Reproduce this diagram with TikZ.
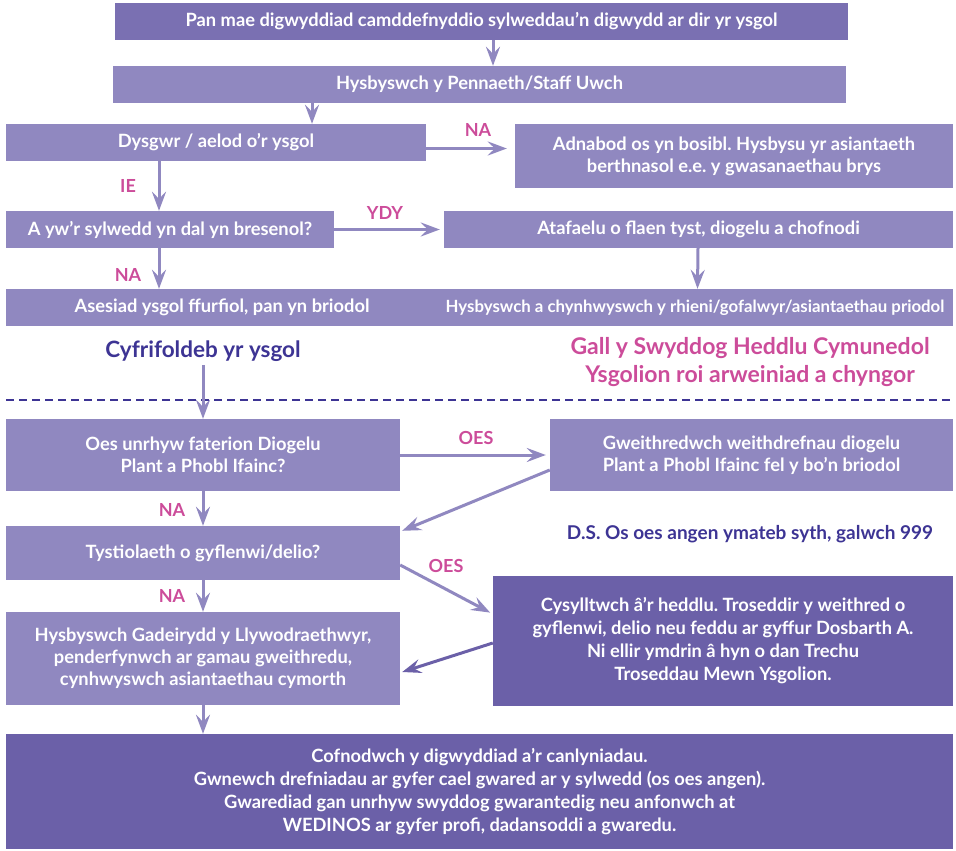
\documentclass[tikz,border=0pt]{standalone}
\usepackage{fontspec}
\setmainfont{Lato}
\frenchspacing
\usetikzlibrary{arrows.meta}
\definecolor{boxlight}{HTML}{9088C0}
\definecolor{boxtop}{HTML}{7A70B2}
\definecolor{boxdark}{HTML}{6B60A8}
\definecolor{answerpink}{HTML}{CC4C9A}
\definecolor{notenavy}{HTML}{3D3494}
\tikzset{
  box/.style={fill=boxlight, text=white, align=center, inner sep=0pt,
    font=\bfseries\fontsize{18.3}{22}\selectfont},
  topbox/.style={box, fill=boxtop},
  darkbox/.style={box, fill=boxdark, font=\bfseries\fontsize{18.3}{23}\selectfont},
  flow/.style={draw=boxlight, line width=3pt, -{Stealth[length=19pt,width=14pt,inset=7pt]}},
  darkflow/.style={flow, draw=boxdark},
  answer/.style={text=answerpink, font=\bfseries\fontsize{18}{20}\selectfont},
  note/.style={text=notenavy, align=center, font=\bfseries\fontsize{19}{22}\selectfont},
}
\begin{document}
\begin{tikzpicture}[x=1pt,y=-1pt]
  \useasboundingbox (0,0) rectangle (956,851);
  % upper part
  \node[topbox, minimum width=733, minimum height=37] (top) at (481.5,21.5)
    {Pan mae digwyddiad camddefnyddio sylweddau’n digwydd ar dir yr ysgol};
  \node[box, minimum width=733, minimum height=37] (hysb) at (479.5,84.5)
    {Hysbyswch y Pennaeth/Staff Uwch};
  \node[box, minimum width=420, minimum height=37] (dysgwr) at (216,142.5)
    {Dysgwr / aelod o’r ysgol};
  \node[box, minimum width=438, minimum height=64] (adnabod) at (734,156)
    {Adnabod os yn bosibl. Hysbysu yr asiantaeth\\berthnasol e.e. y gwasanaethau brys};
  \node[box, minimum width=328, minimum height=37] (ayw) at (170,229.5)
    {A yw’r sylwedd yn dal yn bresenol?};
  \node[box, minimum width=509, minimum height=37] (atafaelu) at (698.5,229.5)
    {Atafaelu o flaen tyst, diogelu a chofnodi};
  \node[box, minimum width=433, minimum height=37] (asesiad) at (222,307.5)
    {Asesiad ysgol ffurfiol, pan yn briodol};
  \node[box, minimum width=516, minimum height=37, font=\bfseries\fontsize{16.8}{20}\selectfont]
    (hysbr) at (695,307.5)
    {Hysbyswch a chynhwyswch y rhieni/gofalwyr/asiantaethau priodol};
  \node[note, font=\bfseries\fontsize{22.5}{26}\selectfont] (cyfr) at (203,351)
    {Cyfrifoldeb yr ysgol};
  \node[note, text=answerpink, font=\bfseries\fontsize{23}{28}\selectfont] (heddlu) at (750,362)
    {Gall y Swyddog Heddlu Cymunedol\\Ysgolion roi arweiniad a chyngor};
  \draw[notenavy, line width=2.5pt, dash pattern=on 8pt off 5pt] (6,400) -- (953,400);
  % lower part
  \node[box, minimum width=394, minimum height=72] (oes) at (203,455)
    {Oes unrhyw faterion Diogelu\\Plant a Phobl Ifainc?};
  \node[box, minimum width=403, minimum height=72] (gweith) at (751.5,455)
    {Gweithredwch weithdrefnau diogelu\\Plant a Phobl Ifainc fel y bo’n briodol};
  \node[box, minimum width=394, minimum height=54] (tyst) at (203,553)
    {Tystiolaeth o gyflenwi/delio?};
  \node[note] (ds) at (750,534) {D.S. Os oes angen ymateb syth, galwch 999};
  \node[darkbox, minimum width=460, minimum height=130] (cysyll) at (723,641)
    {Cysylltwch â’r heddlu. Troseddir y weithred o\\gyflenwi, delio neu feddu ar gyffur Dosbarth A.\\Ni ellir ymdrin â hyn o dan Trechu\\Troseddau Mewn Ysgolion.};
  \node[box, minimum width=394, minimum height=93] (hysgad) at (203,658.5)
    {Hysbyswch Gadeirydd y Llywodraethwyr,\\penderfynwch ar gamau gweithredu,\\cynhwyswch asiantaethau cymorth};
  \node[darkbox, minimum width=947, minimum height=115] (cofn) at (479.5,791.5)
    {Cofnodwch y digwyddiad a’r canlyniadau.\\Gwnewch drefniadau ar gyfer cael gwared ar y sylwedd (os oes angen).\\Gwarediad gan unrhyw swyddog gwarantedig neu anfonwch at\\WEDINOS ar gyfer profi, dadansoddi a gwaredu.};
  % answers
  \node[answer] (na1) at (478,130) {NA};
  \node[answer] (ie) at (128,186) {IE};
  \node[answer] (ydy) at (385,213) {YDY};
  \node[answer] (na2) at (128,275) {NA};
  \node[answer] (oes1) at (476,438) {OES};
  \node[answer] (na3) at (172,510) {NA};
  \node[answer] (oes2) at (446,566) {OES};
  \node[answer] (na4) at (172,596) {NA};
  % connectors
  \draw[flow] ([xshift=11.5]top.south) -- ([xshift=13.5]hysb.north);
  \draw[flow] ([xshift=-167.5]hysb.south) -- ([xshift=96]dysgwr.north);
  \draw[flow, shorten >=8pt] ([yshift=-6]dysgwr.east) -- ([yshift=7.5]adnabod.west);
  \draw[flow] ([xshift=-57]dysgwr.south) -- ([xshift=-11]ayw.north);
  \draw[flow, shorten >=4pt] (ayw.east) -- (atafaelu.west);
  \draw[flow] ([xshift=-0.5]atafaelu.south) -- ([xshift=2.5]hysbr.north);
  \draw[flow] ([xshift=-11]ayw.south) -- ([xshift=-63]asesiad.north);
  \draw[flow] (cyfr.south) -- (oes.north);
  \draw[flow, shorten >=4pt] (oes.east) -- (gweith.west);
  \draw[flow] (oes.south) -- (tyst.north);
  \draw[flow] ([yshift=-15]gweith.west) -- ([xshift=2,yshift=-5]tyst.north east);
  \draw[flow, shorten >=3pt] ([yshift=-12]tyst.east) -- ([yshift=27]cysyll.west);
  \draw[flow] (tyst.south) -- (hysgad.north);
  \draw[darkflow] ([yshift=-2]cysyll.west) -- ([xshift=2,yshift=-13.5]hysgad.east);
  \draw[flow] (hysgad.south) -- ([xshift=-276.5]cofn.north);
\end{tikzpicture}
\end{document}
